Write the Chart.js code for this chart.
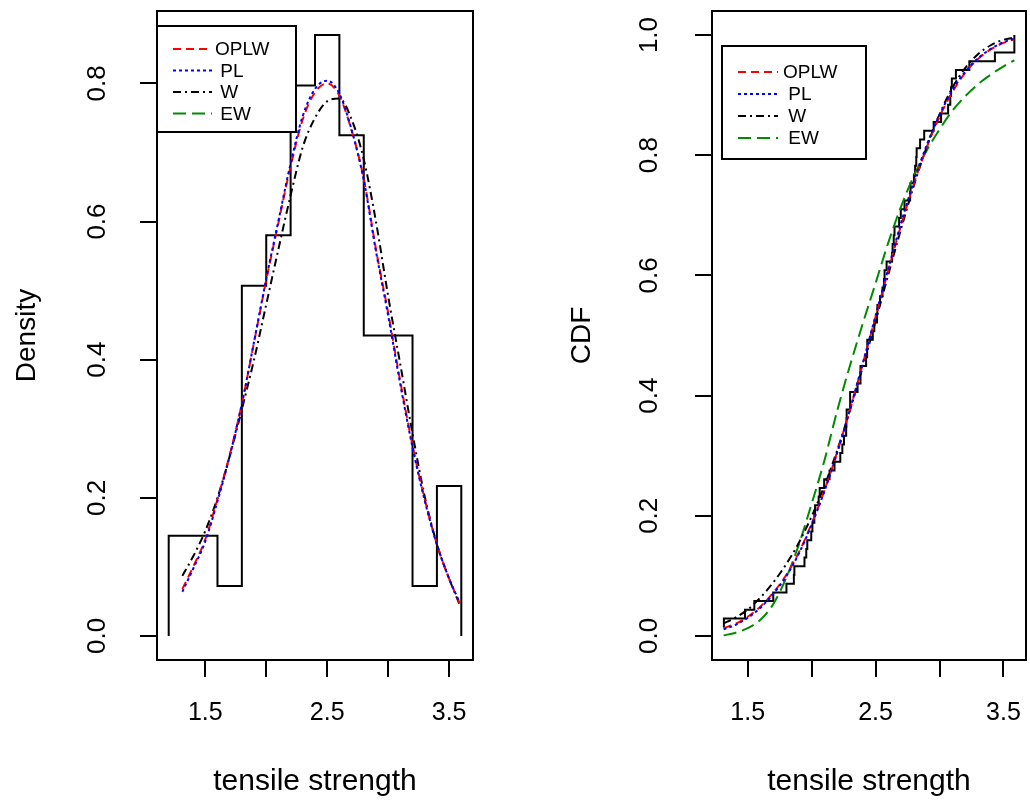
<!DOCTYPE html>
<html>
<head>
<meta charset="utf-8">
<title>tensile strength</title>
<script src="https://cdn.jsdelivr.net/npm/chart.js@4.4.1/dist/chart.umd.min.js"></script>
<style>
body { margin: 0; background: #fff; width: 1030px; height: 803px; overflow: hidden; }
canvas { position: absolute; top: 0; }
#densityChart { left: 0; }
#cdfChart { left: 515px; }
</style>
</head>
<body>
<canvas id="densityChart" width="515" height="803"></canvas>
<canvas id="cdfChart" width="515" height="803"></canvas>
<script>
// ===============================
// data
// ===============================

const histBreaks = [1.2, 1.4, 1.6, 1.8, 2.0, 2.2, 2.4, 2.6, 2.8, 3.0, 3.2, 3.4, 3.6];
const histDensity = [0.145, 0.145, 0.0725, 0.507, 0.580, 0.797, 0.870, 0.725, 0.435, 0.435, 0.0725, 0.217];

// grid where the fitted curves were read
const gridX = [1.312, 1.4, 1.5, 1.6, 1.7, 1.8, 1.9, 2.0, 2.1, 2.2, 2.3, 2.4, 2.5, 2.6, 2.7, 2.8, 2.9, 3.0, 3.1, 3.2, 3.3, 3.4, 3.5, 3.585];

const pdfOPLW = [0.068, 0.100, 0.140, 0.198, 0.262, 0.336, 0.425, 0.515, 0.598, 0.680, 0.748, 0.787, 0.800, 0.782, 0.732, 0.662, 0.560, 0.468, 0.368, 0.276, 0.198, 0.133, 0.083, 0.048];
const pdfPL = [0.064, 0.097, 0.137, 0.195, 0.260, 0.336, 0.426, 0.517, 0.601, 0.684, 0.753, 0.792, 0.804, 0.785, 0.733, 0.660, 0.557, 0.464, 0.364, 0.273, 0.196, 0.132, 0.083, 0.049];
const pdfW = [0.087, 0.115, 0.152, 0.200, 0.260, 0.328, 0.400, 0.480, 0.560, 0.638, 0.708, 0.750, 0.774, 0.778, 0.748, 0.690, 0.600, 0.492, 0.393, 0.293, 0.202, 0.133, 0.083, 0.046];

const cdfOPLW = [0.013, 0.020, 0.032, 0.049, 0.072, 0.101, 0.139, 0.187, 0.242, 0.306, 0.377, 0.453, 0.531, 0.609, 0.684, 0.753, 0.813, 0.864, 0.905, 0.937, 0.960, 0.976, 0.987, 0.993];
const cdfPL = [0.011, 0.018, 0.030, 0.047, 0.070, 0.099, 0.137, 0.185, 0.241, 0.305, 0.377, 0.454, 0.533, 0.612, 0.688, 0.757, 0.817, 0.867, 0.908, 0.939, 0.961, 0.977, 0.988, 0.994];
const cdfW = [0.021, 0.030, 0.044, 0.064, 0.089, 0.119, 0.155, 0.199, 0.250, 0.309, 0.376, 0.448, 0.524, 0.602, 0.678, 0.750, 0.814, 0.868, 0.912, 0.945, 0.968, 0.983, 0.992, 0.996];
const cdfEW = [0.001, 0.005, 0.013, 0.027, 0.053, 0.096, 0.152, 0.220, 0.292, 0.375, 0.450, 0.520, 0.587, 0.655, 0.715, 0.766, 0.808, 0.843, 0.874, 0.898, 0.918, 0.934, 0.948, 0.958];

// empirical cdf steps
const strength = [1.312, 1.314, 1.479, 1.552, 1.700, 1.803, 1.861, 1.865, 1.944, 1.958, 1.966, 1.997, 2.006, 2.021, 2.027, 2.055, 2.063, 2.098, 2.140, 2.179, 2.224, 2.240, 2.253, 2.270, 2.272, 2.274, 2.301, 2.301, 2.359, 2.382, 2.382, 2.426, 2.434, 2.435, 2.478, 2.490, 2.511, 2.514, 2.535, 2.554, 2.566, 2.570, 2.586, 2.629, 2.633, 2.642, 2.648, 2.684, 2.697, 2.726, 2.770, 2.773, 2.800, 2.809, 2.818, 2.821, 2.848, 2.880, 2.954, 3.012, 3.067, 3.084, 3.090, 3.096, 3.128, 3.233, 3.433, 3.585, 3.585];
const ecdfLevel = [0.0145, 0.0290, 0.0435, 0.0580, 0.0725, 0.0870, 0.1014, 0.1159, 0.1304, 0.1449, 0.1594, 0.1739, 0.1884, 0.2029, 0.2174, 0.2319, 0.2464, 0.2609, 0.2754, 0.2899, 0.3043, 0.3188, 0.3333, 0.3478, 0.3623, 0.3768, 0.3913, 0.4058, 0.4203, 0.4348, 0.4493, 0.4638, 0.4783, 0.4928, 0.5072, 0.5217, 0.5362, 0.5507, 0.5652, 0.5797, 0.5942, 0.6087, 0.6232, 0.6377, 0.6522, 0.6667, 0.6812, 0.6957, 0.7101, 0.7246, 0.7391, 0.7536, 0.7681, 0.7826, 0.7971, 0.8116, 0.8261, 0.8406, 0.8551, 0.8696, 0.8841, 0.8986, 0.9130, 0.9275, 0.9420, 0.9565, 0.9710, 0.9855, 1.0];

const xTicks = [1.5, 2.0, 2.5, 3.0, 3.5];
const xTickLabels = ["1.5", "", "2.5", "", "3.5"];
const densityTicks = [0, 0.2, 0.4, 0.6, 0.8];
const densityTickLabels = ["0.0", "0.2", "0.4", "0.6", "0.8"];
const cdfTicks = [0, 0.2, 0.4, 0.6, 0.8, 1.0];
const cdfTickLabels = ["0.0", "0.2", "0.4", "0.6", "0.8", "1.0"];

const modelNames = ["OPLW", " PL", " W", " EW"];

// ===============================

const FONT = "'Liberation Sans', Arial, sans-serif";

const RED = "#ff0000";
const BLUE = "#0000ff";
const BLACK = "#000000";
const GREEN = "#008b00";

const DASH_OPLW = [8, 5];
const DASH_PL = [3, 3];
const DASH_W = [8, 4, 2, 4];
const DASH_EW = [13, 6];

function curve(xs, ys) {
    return xs.map((x, i) => ({ x: x, y: ys[i] }));
}

function lineSet(label, data, color, dash) {
    return {
        label: label,
        data: data,
        borderColor: color,
        borderWidth: 2,
        borderDash: dash,
        pointRadius: 0,
        fill: false,
        cubicInterpolationMode: "monotone"
    };
}

// box around the plot + legend + R style texts
const rDecor = {

    id: "rDecor",

    afterDatasetsDraw(chart, args, opts) {

        const ctx = chart.ctx;
        const area = chart.chartArea;
        const yScale = chart.scales.y;

        ctx.save();

        // legend box
        const lg = opts.legend;
        ctx.fillStyle = "#fff";
        ctx.fillRect(lg.left, lg.top, lg.width, lg.height);
        ctx.strokeStyle = BLACK;
        ctx.lineWidth = 2;
        ctx.setLineDash([]);
        ctx.strokeRect(lg.left, lg.top, lg.width, lg.height);

        lg.items.forEach((item, i) => {
            const y = lg.firstRow + i * lg.rowGap;
            ctx.strokeStyle = item.color;
            ctx.lineWidth = 2;
            ctx.setLineDash(item.dash);
            ctx.beginPath();
            ctx.moveTo(lg.lineStart, y);
            ctx.lineTo(lg.lineEnd, y);
            ctx.stroke();
            ctx.setLineDash([]);
            ctx.fillStyle = BLACK;
            ctx.font = "19px " + FONT;
            ctx.textAlign = "left";
            ctx.textBaseline = "middle";
            ctx.fillText(item.text, lg.textX, y + 1);
        });

        // frame
        ctx.strokeStyle = BLACK;
        ctx.lineWidth = 2;
        ctx.strokeRect(area.left, area.top, area.right - area.left, area.bottom - area.top);

        // y tick labels, turned like in R
        ctx.fillStyle = BLACK;
        ctx.font = "26px " + FONT;
        ctx.textAlign = "center";
        ctx.textBaseline = "middle";
        opts.yTicks.forEach((v, i) => {
            const py = yScale.getPixelForValue(v);
            ctx.save();
            ctx.translate(opts.yLabelX, py);
            ctx.rotate(-Math.PI / 2);
            ctx.fillText(opts.yLabels[i], 0, 0);
            ctx.restore();
        });

        // axis titles
        ctx.font = "28px " + FONT;
        ctx.save();
        ctx.translate(opts.yTitleX, (area.top + area.bottom) / 2);
        ctx.rotate(-Math.PI / 2);
        ctx.fillText(opts.yTitle, 0, 0);
        ctx.restore();

        ctx.font = "30px " + FONT;
        ctx.fillText(opts.xTitle, (area.left + area.right) / 2, opts.xTitleY);

        ctx.restore();

    }

};

function baseOptions(xMin, xMax, yMin, yMax, yTickValues, yWidth, rightPad) {

    return {
        responsive: false,
        animation: false,
        devicePixelRatio: 1,
        layout: {
            autoPadding: false,
            padding: { top: 11, right: rightPad, bottom: 0, left: 0 }
        },
        plugins: {
            legend: { display: false },
            tooltip: { enabled: false }
        },
        scales: {
            x: {
                type: "linear",
                min: xMin,
                max: xMax,
                afterBuildTicks: (scale) => {
                    scale.ticks = xTicks.map(v => ({ value: v }));
                },
                afterFit: (scale) => {
                    scale.height = 143;
                    scale.paddingLeft = 0;
                    scale.paddingRight = 0;
                },
                ticks: {
                    color: BLACK,
                    padding: 21,
                    maxRotation: 0,
                    autoSkip: false,
                    font: { family: FONT, size: 25 },
                    callback: (value, index) => xTickLabels[index]
                },
                grid: {
                    display: true,
                    drawOnChartArea: false,
                    drawTicks: true,
                    tickLength: 17,
                    color: BLACK,
                    lineWidth: 2
                },
                border: { display: false }
            },
            y: {
                type: "linear",
                min: yMin,
                max: yMax,
                afterBuildTicks: (scale) => {
                    scale.ticks = yTickValues.map(v => ({ value: v }));
                },
                afterFit: (scale) => {
                    scale.width = yWidth;
                    scale.paddingTop = 0;
                    scale.paddingBottom = 0;
                },
                ticks: { display: false },
                grid: {
                    display: true,
                    drawOnChartArea: false,
                    drawTicks: true,
                    tickLength: 17,
                    color: BLACK,
                    lineWidth: 2
                },
                border: { display: false }
            }
        }
    };

}

// -------------------------------
// left : histogram + densities
// -------------------------------

const histPoints = [{ x: histBreaks[0], y: 0 }];
histBreaks.forEach((b, i) => {
    histPoints.push({ x: b, y: i < histDensity.length ? histDensity[i] : 0 });
});

const densityOptions = baseOptions(1.104, 3.696, -0.0348, 0.9048, densityTicks, 157, 42);

densityOptions.plugins.rDecor = {
    yTicks: densityTicks,
    yLabels: densityTickLabels,
    yLabelX: 98,
    yTitle: "Density",
    yTitleX: 27,
    xTitle: "tensile strength",
    xTitleY: 782,
    legend: {
        left: 157, top: 26, width: 139, height: 106,
        firstRow: 49, rowGap: 21.5,
        lineStart: 173, lineEnd: 212, textX: 215,
        items: [
            { text: modelNames[0], color: RED, dash: DASH_OPLW },
            { text: modelNames[1], color: BLUE, dash: DASH_PL },
            { text: modelNames[2], color: BLACK, dash: DASH_W },
            { text: modelNames[3], color: GREEN, dash: DASH_EW }
        ]
    }
};

new Chart(document.getElementById("densityChart"), {
    type: "line",
    data: {
        datasets: [
            lineSet("PL", curve(gridX, pdfPL), BLUE, DASH_PL),
            lineSet("OPLW", curve(gridX, pdfOPLW), RED, DASH_OPLW),
            lineSet("W", curve(gridX, pdfW), BLACK, DASH_W),
            {
                label: "histogram",
                data: histPoints,
                borderColor: BLACK,
                borderWidth: 2,
                pointRadius: 0,
                fill: false,
                stepped: true
            }
        ]
    },
    options: densityOptions,
    plugins: [rDecor]
});

// -------------------------------
// right : ecdf + fitted cdfs
// -------------------------------

const cdfOptions = baseOptions(1.221, 3.676, -0.04, 1.04, cdfTicks, 197, 4);

cdfOptions.plugins.rDecor = {
    yTicks: cdfTicks,
    yLabels: cdfTickLabels,
    yLabelX: 135,
    yTitle: "CDF",
    yTitleX: 67,
    xTitle: "tensile strength",
    xTitleY: 782,
    legend: {
        left: 207, top: 46, width: 144, height: 113,
        firstRow: 72, rowGap: 22,
        lineStart: 223, lineEnd: 263, textX: 268,
        items: [
            { text: modelNames[0], color: RED, dash: DASH_OPLW },
            { text: modelNames[1], color: BLUE, dash: DASH_PL },
            { text: modelNames[2], color: BLACK, dash: DASH_W },
            { text: modelNames[3], color: GREEN, dash: DASH_EW }
        ]
    }
};

new Chart(document.getElementById("cdfChart"), {
    type: "line",
    data: {
        datasets: [
            lineSet("PL", curve(gridX, cdfPL), BLUE, DASH_PL),
            lineSet("OPLW", curve(gridX, cdfOPLW), RED, DASH_OPLW),
            lineSet("W", curve(gridX, cdfW), BLACK, DASH_W),
            lineSet("EW", curve(gridX, cdfEW), GREEN, DASH_EW),
            {
                label: "ecdf",
                data: curve(strength, ecdfLevel),
                borderColor: BLACK,
                borderWidth: 2,
                pointRadius: 0,
                fill: false,
                stepped: true
            }
        ]
    },
    options: cdfOptions,
    plugins: [rDecor]
});
</script>
</body>
</html>
